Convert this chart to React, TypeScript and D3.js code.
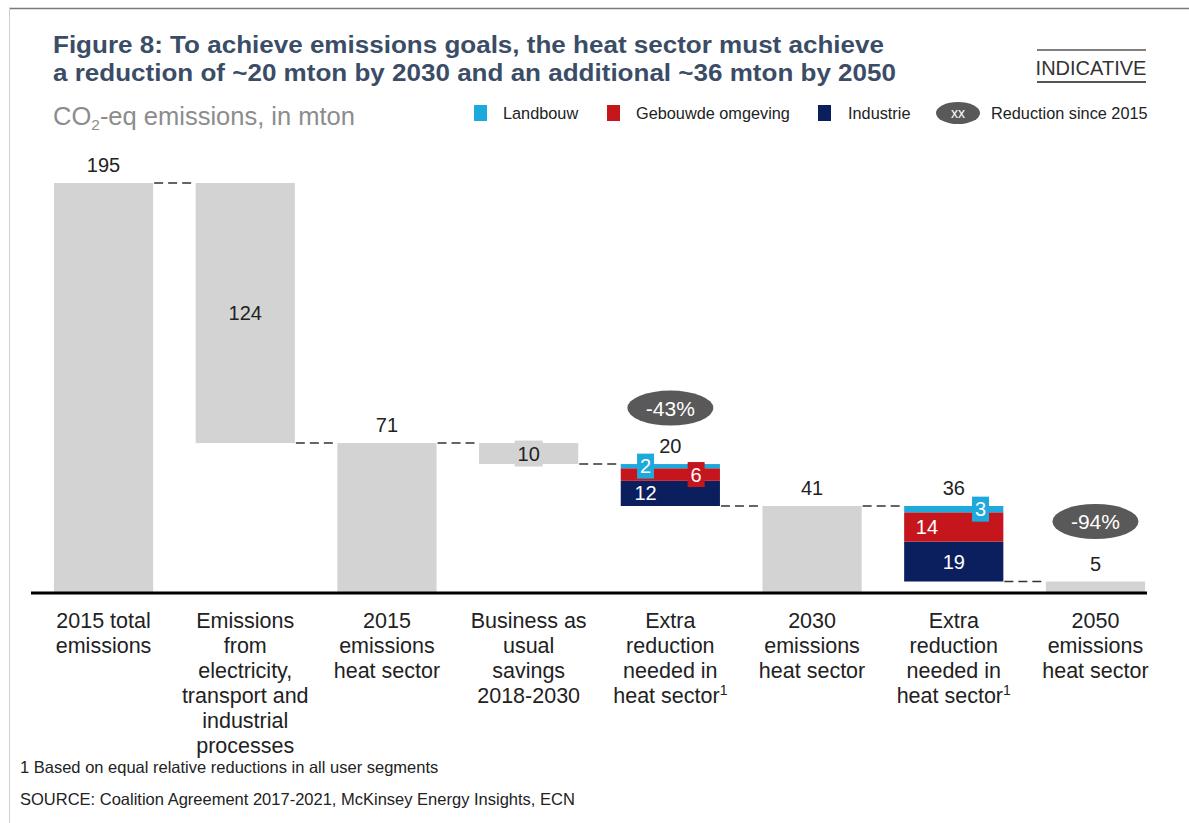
import React from "react";
import * as d3 from "d3";

const categories: string[][] = [
  ["2015 total", "emissions"],
  ["Emissions", "from", "electricity,", "transport and", "industrial", "processes"],
  ["2015", "emissions", "heat sector"],
  ["Business as", "usual", "savings", "2018-2030"],
  ["Extra", "reduction", "needed in", "heat sector¹"],
  ["2030", "emissions", "heat sector"],
  ["Extra", "reduction", "needed in", "heat sector¹"],
  ["2050", "emissions", "heat sector"],
];
// "total" bars stand on the axis, "step" bars hang from the previous level
const stepKinds = ["total", "step", "total", "step", "step", "total", "step", "total"];
const totalValues = [195, 124, 71, 10, 20, 41, 36, 5];
const industrie = [0, 0, 0, 0, 12, 0, 19, 0];
const gebouwde = [0, 0, 0, 0, 6, 0, 14, 0];
const landbouw = [0, 0, 0, 0, 2, 0, 3, 0];
const reductionBadges = [null, null, null, null, "-43%", null, null, "-94%"];
const legendNames = ["Landbouw", "Gebouwde omgeving", "Industrie"];

const GRAY = "#d3d3d3";
const COLORS: Record<string, string> = {
  Landbouw: "#1ea9dc",
  "Gebouwde omgeving": "#c5161d",
  Industrie: "#0b1f5e",
};
const FONT = "Liberation Sans, Arial, sans-serif";

export default function App() {
  const W = 1189;
  const H = 823;
  const baseY = 592;
  const x = d3
    .scaleBand<number>()
    .domain(d3.range(categories.length))
    .range([32.7, 1166.3])
    .paddingInner(0.3)
    .paddingOuter(0.15);
  const y = d3.scaleLinear().domain([0, 195]).range([baseY, 183]);

  let level = 0;
  const bars = totalValues.map((v, i) => {
    let lo: number, hi: number;
    if (stepKinds[i] === "total") {
      lo = 0;
      hi = v;
      level = v;
    } else {
      hi = level;
      lo = level - v;
      level = lo;
    }
    return { i, lo, hi, v };
  });

  const bw = x.bandwidth();
  const elements: React.ReactNode[] = [];

  bars.forEach((b, idx) => {
    const x0 = x(b.i)!;
    const cx = x0 + bw / 2;
    const stacked = industrie[idx] + gebouwde[idx] + landbouw[idx] > 0;
    if (!stacked) {
      elements.push(
        <rect key={`b${idx}`} x={x0} y={y(b.hi)} width={bw} height={y(b.lo) - y(b.hi)} fill={GRAY} />
      );
    } else {
      const segs: any[] = [
        { name: "Industrie", v: industrie[idx] },
        { name: "Gebouwde omgeving", v: gebouwde[idx] },
        { name: "Landbouw", v: landbouw[idx] },
      ];
      let cur = b.lo;
      segs.forEach((s) => {
        const top = cur + s.v;
        elements.push(
          <rect
            key={`s${idx}${s.name}`}
            x={x0}
            y={y(top)}
            width={bw}
            height={y(cur) - y(top)}
            fill={COLORS[s.name]}
          />
        );
        s.lo = cur;
        s.hi = top;
        cur = top;
      });
      segs.forEach((s: any) => {
        const mid = (y(s.lo) + y(s.hi)) / 2;
        let fx = 0.5;
        let boxed = false;
        if (s.name === "Landbouw") {
          fx = idx === 4 ? 0.25 : 0.77;
          boxed = true;
        } else if (s.name === "Gebouwde omgeving") {
          fx = idx === 4 ? 0.76 : 0.23;
          boxed = idx === 4;
        } else {
          fx = idx === 4 ? 0.25 : 0.5;
        }
        const lx = x0 + bw * fx;
        const tw = String(s.v).length * 10 + 7;
        if (boxed) {
          elements.push(
            <rect key={`lb${idx}${s.name}`} x={lx - tw / 2} y={mid - 12.5} width={tw} height={25} fill={COLORS[s.name]} />
          );
        }
        elements.push(
          <text
            key={`lt${idx}${s.name}`}
            x={lx}
            y={mid + 7}
            textAnchor="middle"
            fontSize={20}
            fill="#ffffff"
            fontFamily={FONT}
          >
            {s.v}
          </text>
        );
      });
    }
    if (idx === 1) {
      elements.push(
        <text key={`v${idx}`} x={cx} y={(y(b.lo) + y(b.hi)) / 2 + 7} textAnchor="middle" fontSize={20} fill="#222" fontFamily={FONT}>
          {b.v}
        </text>
      );
    } else if (idx === 3) {
      const mid = (y(b.lo) + y(b.hi)) / 2;
      elements.push(
        <rect key={`vb${idx}`} x={cx - 14} y={mid - 13} width={28} height={26} fill={GRAY} />
      );
      elements.push(
        <text key={`v${idx}`} x={cx} y={mid + 7} textAnchor="middle" fontSize={20} fill="#222" fontFamily={FONT}>
          {b.v}
        </text>
      );
    } else {
      elements.push(
        <text key={`v${idx}`} x={cx} y={y(b.hi) - 11} textAnchor="middle" fontSize={20} fill="#222" fontFamily={FONT}>
          {b.v}
        </text>
      );
    }
    const badge = reductionBadges[idx];
    if (badge) {
      const by = y(b.hi) - (idx === 4 ? 56 : 60);
      elements.push(
        <g key={`bd${idx}`}>
          <ellipse cx={cx} cy={by} rx={43} ry={17.5} fill="#595959" />
          <text x={cx} y={by + 7.5} textAnchor="middle" fontSize={21} fill="#ffffff" fontFamily={FONT}>
            {badge}
          </text>
        </g>
      );
    }
    if (idx < bars.length - 1) {
      const next = bars[idx + 1];
      const lvl = stepKinds[idx] === "total" ? b.hi : b.lo;
      const ly = y(Math.min(lvl, next.hi));
      elements.push(
        <line
          key={`c${idx}`}
          x1={x0 + bw + 1}
          x2={x(idx + 1)! - 1}
          y1={ly}
          y2={ly}
          stroke="#333"
          strokeWidth={1.5}
          strokeDasharray="9,5"
        />
      );
    }
    elements.push(
      <text key={`cat${idx}`} textAnchor="middle" fontSize={21.5} fill="#222" fontFamily={FONT}>
        {categories[idx].map((line, li) => {
          const sup = line.endsWith("¹");
          return (
            <tspan key={li} x={cx} y={628 + li * 25}>
              {sup ? line.slice(0, -1) : line}
              {sup ? (
                <tspan fontSize={14} dy={-8}>
                  1
                </tspan>
              ) : null}
            </tspan>
          );
        })}
      </text>
    );
  });

  const legendX = [474, 607, 818];
  const legendTextX = [503, 636, 848];

  return (
    <svg
      width={W}
      height={H}
      style={{ position: "absolute", left: 0, top: 0, background: "#fff" }}
      fontFamily={FONT}
    >
      <rect x={0} y={0} width={W} height={H} fill="#ffffff" />
      <line x1={9} x2={W} y1={8.5} y2={8.5} stroke="#7a7a7a" strokeWidth={1.5} />
      <line x1={9.5} x2={9.5} y1={8} y2={H} stroke="#cfcfcf" strokeWidth={1} />
      <text x={53} y={53} fontSize={23} fontWeight="bold" fill="#3b4d66" textLength={831} lengthAdjust="spacingAndGlyphs">
        Figure 8: To achieve emissions goals, the heat sector must achieve
      </text>
      <text x={53} y={81} fontSize={23} fontWeight="bold" fill="#3b4d66" textLength={843} lengthAdjust="spacingAndGlyphs">
        a reduction of ~20 mton by 2030 and an additional ~36 mton by 2050
      </text>
      <text x={53} y={125} fontSize={25.5} fill="#8c8c8c">
        CO
        <tspan fontSize={15.5} dy={5}>
          2
        </tspan>
        <tspan dy={-5}>-eq emissions, in mton</tspan>
      </text>
      <line x1={1037} x2={1146} y1={50} y2={50} stroke="#555" strokeWidth={1.5} />
      <text x={1091} y={75} fontSize={20} textAnchor="middle" fill="#333">
        INDICATIVE
      </text>
      <line x1={1037} x2={1146} y1={82} y2={82} stroke="#555" strokeWidth={2} />
      {legendNames.map((n, i) => (
        <g key={n}>
          <rect x={legendX[i]} y={105} width={13} height={16} fill={COLORS[n]} />
          <text x={legendTextX[i]} y={119} fontSize={16.3} fill="#222">
            {n}
          </text>
        </g>
      ))}
      <ellipse cx={958} cy={113} rx={22} ry={11} fill="#595959" />
      <text x={958} y={118} fontSize={14} textAnchor="middle" fill="#fff">
        xx
      </text>
      <text x={991} y={119} fontSize={16.3} fill="#222">
        Reduction since 2015
      </text>
      {elements}
      <line x1={31} x2={1147} y1={baseY + 1} y2={baseY + 1} stroke="#000" strokeWidth={3} />
      <text x={20} y={773} fontSize={16.5} fill="#222">
        1 Based on equal relative reductions in all user segments
      </text>
      <text x={20} y={805} fontSize={16.5} fill="#222">
        SOURCE: Coalition Agreement 2017-2021, McKinsey Energy Insights, ECN
      </text>
    </svg>
  );
}
